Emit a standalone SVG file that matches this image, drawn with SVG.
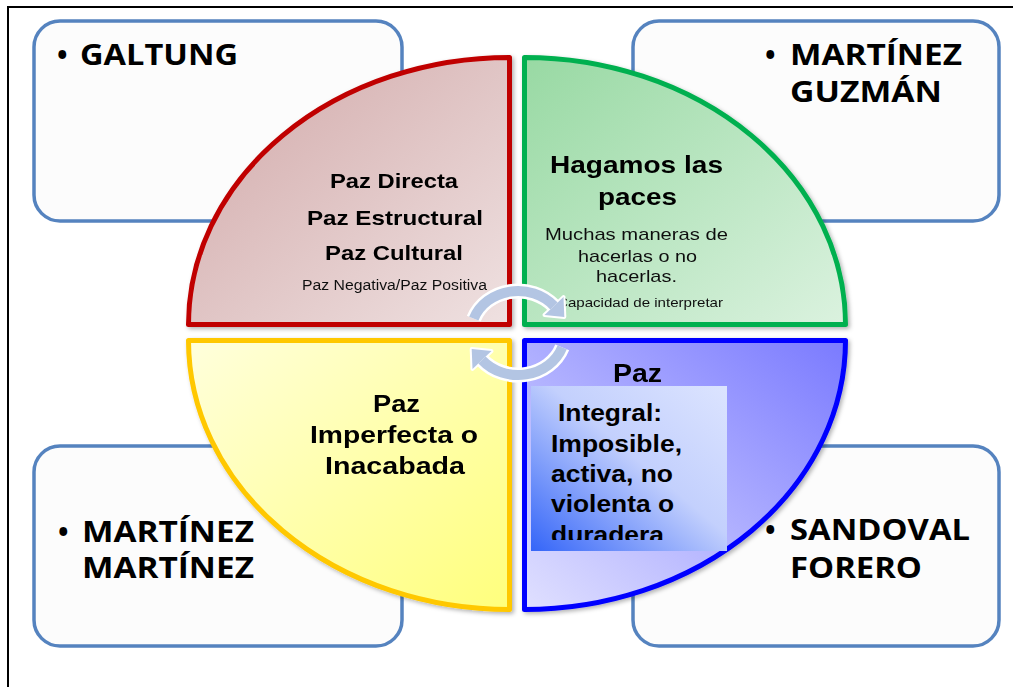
<svg xmlns="http://www.w3.org/2000/svg" width="1013" height="687" viewBox="0 0 1013 687">
<defs>
<style>
.box{fill:#fcfcfc;stroke:#5583bf;stroke-width:3.5}
.bt{font-family:"Open Sans","Liberation Sans",sans-serif;font-weight:bold;font-size:28px;fill:#000}
.qb{font-family:"Liberation Sans",Arial,sans-serif;font-weight:bold;fill:#000;text-anchor:middle}
.qr{font-family:"Liberation Sans",Arial,sans-serif;fill:#111;text-anchor:middle}
.ib{font-family:"Liberation Sans",Arial,sans-serif;font-weight:bold;font-size:24px;fill:#000}
.q{stroke-width:5;stroke-linejoin:round}
.aw{fill:none;stroke:#fff;stroke-width:15}
.ab{fill:none;stroke:#b3c5e3;stroke-width:10}
.hw{fill:#fff;stroke:#fff;stroke-width:4;stroke-linejoin:round}
.hb{fill:#b3c5e3}
</style>
<linearGradient id="gR" x1="0" y1="0" x2="1" y2="1"><stop offset="0" stop-color="#d1a8a8"/><stop offset="1" stop-color="#efe1e1"/></linearGradient>
<linearGradient id="gG" x1="0" y1="0" x2="1" y2="1"><stop offset="0" stop-color="#98d9a3"/><stop offset="1" stop-color="#dbf2df"/></linearGradient>
<linearGradient id="gB" x1="0" y1="1" x2="1" y2="0"><stop offset="0" stop-color="#e0e0ff"/><stop offset="1" stop-color="#7a7aff"/></linearGradient>
<linearGradient id="gY" x1="0" y1="0" x2="1" y2="1"><stop offset="0" stop-color="#ffffdc"/><stop offset="1" stop-color="#ffff7c"/></linearGradient>
<linearGradient id="gI" x1="0" y1="1" x2="1" y2="0"><stop offset="0" stop-color="#3465f8"/><stop offset="0.55" stop-color="#c3d0fd"/><stop offset="1" stop-color="#dce4ff"/></linearGradient>
<filter id="sh" x="-10%" y="-10%" width="120%" height="120%"><feDropShadow dx="2" dy="2" stdDeviation="2" flood-color="#000" flood-opacity="0.3"/></filter>
<clipPath id="cI"><rect x="531" y="386" width="196" height="154"/></clipPath>
</defs>
<rect x="8" y="7" width="1010" height="690" fill="#fff" stroke="#000" stroke-width="2"/>

<g id="box-galtung">
<rect class="box" x="34" y="21" width="368" height="200" rx="26"/>
<text class="bt" x="57" y="65">•</text>
<text class="bt" x="80" y="65" textLength="158" lengthAdjust="spacingAndGlyphs">GALTUNG</text>
</g>
<g id="box-martinez-guzman">
<rect class="box" x="633" y="21" width="366" height="200" rx="26"/>
<text class="bt" x="765" y="65">•</text>
<text class="bt" x="790" y="65" textLength="172" lengthAdjust="spacingAndGlyphs">MARTÍNEZ</text>
<text class="bt" x="790" y="102" textLength="152" lengthAdjust="spacingAndGlyphs">GUZMÁN</text>
</g>
<g id="box-martinez-martinez">
<rect class="box" x="34" y="446" width="368" height="200" rx="26"/>
<text class="bt" x="58" y="542">•</text>
<text class="bt" x="82" y="542" textLength="172" lengthAdjust="spacingAndGlyphs">MARTÍNEZ</text>
<text class="bt" x="82" y="578" textLength="172" lengthAdjust="spacingAndGlyphs">MARTÍNEZ</text>
</g>
<g id="box-sandoval-forero">
<rect class="box" x="633" y="446" width="366" height="200" rx="26"/>
<text class="bt" x="765" y="540">•</text>
<text class="bt" x="790" y="540" textLength="180" lengthAdjust="spacingAndGlyphs">SANDOVAL</text>
<text class="bt" x="790" y="578" textLength="132" lengthAdjust="spacingAndGlyphs">FORERO</text>
</g>

<g id="q-red" filter="url(#sh)">
<path class="q" d="M509.5 324.5 L188.5 324.5 A321 267 0 0 1 509.5 57.5 Z" fill="url(#gR)" stroke="#c00000"/>
<text class="qb" x="394" y="188" font-size="21" textLength="128" lengthAdjust="spacingAndGlyphs">Paz Directa</text>
<text class="qb" x="395" y="225" font-size="21" textLength="176" lengthAdjust="spacingAndGlyphs">Paz Estructural</text>
<text class="qb" x="394" y="260" font-size="21" textLength="138" lengthAdjust="spacingAndGlyphs">Paz Cultural</text>
<text class="qr" x="394.5" y="290" font-size="14" textLength="185" lengthAdjust="spacingAndGlyphs">Paz Negativa/Paz Positiva</text>
</g>
<g id="q-green" filter="url(#sh)">
<path class="q" d="M524.5 324.5 L524.5 57.5 A321 267 0 0 1 845.5 324.5 Z" fill="url(#gG)" stroke="#00b050"/>
<text class="qb" x="636.5" y="173" font-size="24" textLength="173" lengthAdjust="spacingAndGlyphs">Hagamos las</text>
<text class="qb" x="637.5" y="205" font-size="24" textLength="79" lengthAdjust="spacingAndGlyphs">paces</text>
<text class="qr" x="636.5" y="240" font-size="17" textLength="183" lengthAdjust="spacingAndGlyphs">Muchas maneras de</text>
<text class="qr" x="637.5" y="262" font-size="17" textLength="119" lengthAdjust="spacingAndGlyphs">hacerlas o no</text>
<text class="qr" x="636.5" y="282" font-size="17" textLength="81" lengthAdjust="spacingAndGlyphs">hacerlas.</text>
<text x="557" y="307" font-family="'Liberation Sans',Arial,sans-serif" font-size="13" fill="#111" textLength="166" lengthAdjust="spacingAndGlyphs">Capacidad de interpretar</text>
</g>
<g id="q-yellow" filter="url(#sh)">
<path class="q" d="M509.5 340.5 L509.5 609.5 A321 269 0 0 1 188.5 340.5 Z" fill="url(#gY)" stroke="#ffc800"/>
<text class="qb" x="396.5" y="412" font-size="24" textLength="47" lengthAdjust="spacingAndGlyphs">Paz</text>
<text class="qb" x="394" y="443" font-size="24" textLength="168" lengthAdjust="spacingAndGlyphs">Imperfecta o</text>
<text class="qb" x="395" y="474" font-size="24" textLength="140" lengthAdjust="spacingAndGlyphs">Inacabada</text>
</g>
<g id="q-blue" filter="url(#sh)">
<path class="q" d="M524.5 340.5 L845.5 340.5 A321 269 0 0 1 524.5 609.5 Z" fill="url(#gB)" stroke="#0000ff"/>
<text class="qb" x="637.5" y="382" font-size="25" textLength="49" lengthAdjust="spacingAndGlyphs">Paz</text>
</g>
<g id="paz-integral">
<rect x="531" y="386" width="196" height="165" fill="url(#gI)"/>
<g clip-path="url(#cI)">
<text class="ib" x="558" y="421" textLength="104" lengthAdjust="spacingAndGlyphs">Integral:</text>
<text class="ib" x="551" y="452" textLength="131" lengthAdjust="spacingAndGlyphs">Imposible,</text>
<text class="ib" x="551" y="482" textLength="122" lengthAdjust="spacingAndGlyphs">activa, no</text>
<text class="ib" x="551" y="512" textLength="123" lengthAdjust="spacingAndGlyphs">violenta o</text>
<text class="ib" x="551" y="543" textLength="113" lengthAdjust="spacingAndGlyphs">duradera</text>
</g>
</g>

<g id="connectors">
<path class="aw" d="M473.8 318.6 A47 42 0 0 1 554 306"/>
<polygon class="hw" points="563.5,297.1 564.3,316.9 544.5,314.9"/>
<path class="aw" d="M562.2 347.4 A47 42 0 0 1 482 360"/>
<polygon class="hw" points="472.5,368.9 471.7,349.1 491.5,351.1"/>
<path class="ab" d="M473.8 318.6 A47 42 0 0 1 554 306"/>
<polygon class="hb" points="563.5,297.1 564.3,316.9 544.5,314.9"/>
<path class="ab" d="M562.2 347.4 A47 42 0 0 1 482 360"/>
<polygon class="hb" points="472.5,368.9 471.7,349.1 491.5,351.1"/>
</g>
</svg>
